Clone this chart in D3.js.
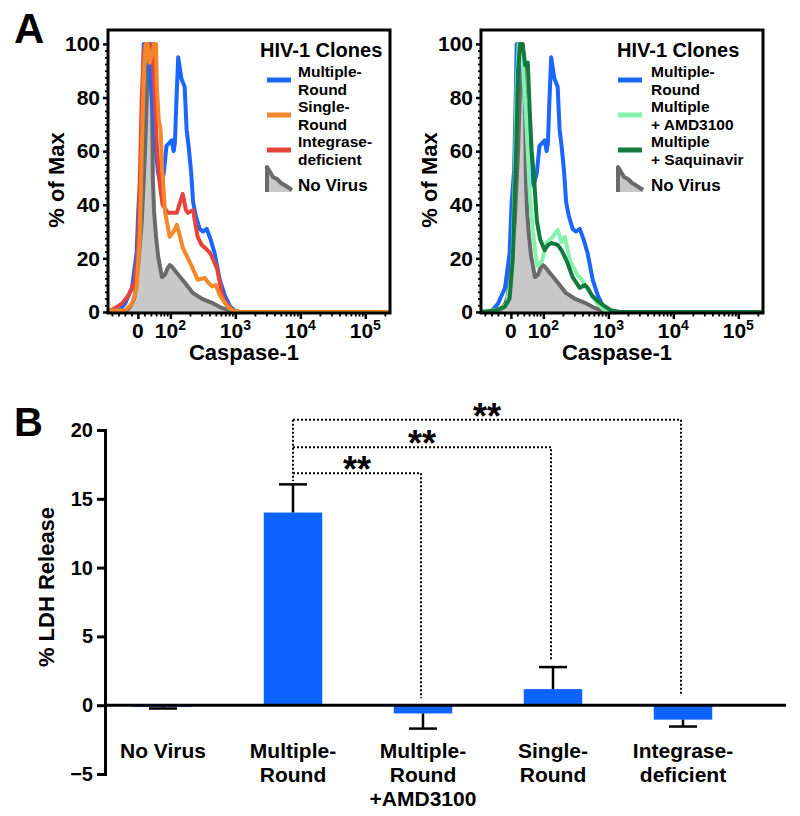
<!DOCTYPE html>
<html><head><meta charset="utf-8">
<script src="https://cdn.jsdelivr.net/npm/d3@7/dist/d3.min.js"></script>
<style>
body{margin:0;background:#fff}
text{font-family:"Liberation Sans",Arial,Helvetica,sans-serif;font-weight:bold;fill:#000}
</style></head>
<body><svg id="chart" width="800" height="816"></svg>
<script>
// ---------- DATA (panel A: x in logicle display units, 0 -> 1.5, 10^k -> k; y in % of Max) ----------
const xTickValues = [1.5, 2, 3, 4, 5];
const xTickLabels = [["0",""],["10","2"],["10","3"],["10","4"],["10","5"]];
const xMinorLinear = [1.1, 1.2, 1.3, 1.4, 1.6, 1.7, 1.78, 1.85, 1.9, 1.95];
const xMinorRaw = [200,300,400,500,600,700,800,900,2000,3000,4000,5000,6000,7000,8000,9000,
                   20000,30000,40000,50000,60000,70000,80000,90000,200000];
const yTickValuesA = [0, 20, 40, 60, 80, 100];

const noVirus = [[1.04,0],[1.30,0],[1.35,1],[1.41,3],[1.45,5.6],[1.50,16],[1.56,34],[1.61,60],[1.65,90],[1.68,100],[1.70,95],[1.72,75],[1.73,50],[1.75,37],[1.78,28],[1.81,21],[1.87,13],[1.92,14],[1.95,16],[1.99,17.5],[2.02,17],[2.10,14.5],[2.22,11],[2.35,7],[2.48,5],[2.64,3.4],[2.79,1.5],[2.92,0.5],[3.01,0],[5.38,0]];
const multipleRound = [[1.04,0],[1.19,0],[1.30,3],[1.41,9],[1.48,22],[1.51,40],[1.55,53],[1.57,75],[1.59,100],[1.66,100],[1.68,90],[1.72,78],[1.76,64],[1.81,52],[1.85,47],[1.90,52],[1.94,62],[2.02,64],[2.05,60],[2.07,63],[2.09,77],[2.12,95],[2.17,87],[2.22,84],[2.25,68],[2.28,62],[2.32,52],[2.35,41],[2.39,36],[2.45,31],[2.50,30],[2.56,31],[2.62,27],[2.68,22],[2.76,12],[2.84,6],[2.92,2],[2.99,0.5],[3.07,0],[5.38,0]];
const integraseDeficient = [[1.04,0],[1.15,1.5],[1.25,3],[1.35,6],[1.45,11],[1.50,22],[1.53,50],[1.56,80],[1.59,97],[1.62,100],[1.65,96],[1.68,94],[1.72,100],[1.75,85],[1.79,62],[1.84,47],[1.88,40],[1.96,37],[2.02,37],[2.10,37],[2.15,41],[2.19,44],[2.24,38],[2.27,37],[2.35,38],[2.39,32],[2.42,28],[2.48,25],[2.53,24],[2.61,22],[2.65,20],[2.72,16],[2.76,11],[2.79,7],[2.84,4],[2.88,2.6],[2.96,0.5],[3.07,0],[5.38,0]];
const singleRound = [[1.04,0],[1.10,0.5],[1.30,0.5],[1.41,3],[1.48,9],[1.53,28],[1.56,60],[1.59,88],[1.62,100],[1.65,100],[1.68,93],[1.72,96],[1.75,100],[1.78,100],[1.79,85],[1.82,72],[1.85,68],[1.87,55],[1.92,37],[1.99,28],[2.05,30],[2.10,32.5],[2.15,28],[2.19,24],[2.25,21],[2.33,17],[2.42,12],[2.53,12.7],[2.58,11],[2.64,9.5],[2.70,10],[2.76,6.3],[2.82,4],[2.88,2],[2.96,0.5],[3.07,0],[5.38,0]];
const multipleAMD3100 = [[1.04,0],[1.33,1],[1.44,3],[1.52,15],[1.56,50],[1.59,85],[1.62,100],[1.67,100],[1.70,85],[1.73,75],[1.79,45],[1.84,30],[1.90,17],[1.98,19],[2.05,26],[2.13,27.6],[2.22,30.6],[2.28,26],[2.33,28],[2.41,19],[2.52,14],[2.59,12],[2.72,7],[2.82,3.4],[2.95,0.5],[3.05,0],[5.38,0]];
const multipleSaquinavir = [[1.04,0],[1.25,0.5],[1.41,2],[1.48,5],[1.53,20],[1.58,60],[1.61,90],[1.64,100],[1.68,100],[1.72,92],[1.76,93],[1.79,75],[1.82,60],[1.85,52],[1.90,34],[1.95,27],[2.02,23],[2.07,25],[2.13,25.7],[2.22,25],[2.28,23],[2.36,19],[2.45,13],[2.56,9],[2.64,10],[2.68,9],[2.75,6],[2.84,4],[2.95,2],[3.05,0.5],[3.18,0],[5.38,0]];

const legendTitle = "HIV-1 Clones";
const legendLeftLabels = [["Multiple-","Round"],["Single-","Round"],["Integrase-","deficient"]];
const legendRightLabels = [["Multiple-","Round"],["Multiple","+ AMD3100"],["Multiple","+ Saquinavir"]];
const noVirusLabel = "No Virus";

// ---------- DATA (panel B) ----------
const barCategories = [["No Virus"],["Multiple-","Round"],["Multiple-","Round","+AMD3100"],["Single-","Round"],["Integrase-","deficient"]];
const barValues = [-0.12, 14.0, -0.6, 1.17, -1.05];
const barErrors = [0.12, 2.05, 1.1, 1.6, 0.5];
const yTicksB = [-5, 0, 5, 10, 15, 20];
const sigFrom = 1;
const sigTo = [2, 3, 4];
const sigLevel = [16.85, 18.75, 20.75];
const sigEnd = [0.5, 3.3, 0.7];
const sigStartTop = 16.3;
const sigLabel = ["**", "**", "**"];

// ---------- STYLES ----------
const C = {blue:"#1a66ff", orange:"#f5872a", red:"#e8433a", gray:"#6a6a6a", grayFill:"#c8c8c8",
           light:"#84f2ab", dark:"#15793d", bar:"#0d63ff"};

const svg = d3.select("#chart");

// Panel labels
svg.append("text").attr("x",14).attr("y",43).attr("font-size",42).text("A");
svg.append("text").attr("x",14).attr("y",436).attr("font-size",40).text("B");

function histPanel(left, series, legend) {
  const W = 282, top = 30, bottom = 313;
  const x = d3.scaleLinear().domain([1.04, 5.38]).range([left, left + W]);
  const y = d3.scaleLinear().domain([-0.4, 105.2]).range([bottom, top]);
  const g = svg.append("g");
  const clipId = "clip" + left;
  svg.append("clipPath").attr("id", clipId).append("rect")
    .attr("x", left).attr("y", top).attr("width", W).attr("height", bottom - top);

  const plot = g.append("g").attr("clip-path", `url(#${clipId})`);
  const line = d3.line().x(d => x(d[0])).y(d => y(d[1]));
  const area = d3.area().x(d => x(d[0])).y0(y(0)).y1(d => y(d[1]));
  plot.append("path").datum(noVirus).attr("d", area).attr("fill", C.grayFill);
  plot.append("path").datum(noVirus).attr("d", line).attr("fill","none")
    .attr("stroke", C.gray).attr("stroke-width", 4).attr("stroke-linejoin","round");
  series.forEach(s => {
    plot.append("path").datum(s.data).attr("d", line).attr("fill","none")
      .attr("stroke", s.color).attr("stroke-width", 4).attr("stroke-linejoin","round").attr("stroke-linecap","round");
  });

  // y axis ticks
  const yAxis = d3.axisLeft(y).tickValues(yTickValuesA).tickSize(5).tickPadding(3);
  const ya = g.append("g").attr("transform", `translate(${left},0)`).call(yAxis);
  ya.select(".domain").remove();
  ya.selectAll("line").attr("stroke-width", 2.5);
  ya.selectAll("text").attr("font-size", 21).attr("font-family", null).attr("fill","#000");
  const yMinor = d3.range(0, 101, 2.5).filter(v => v % 20 !== 0);
  const ym = g.append("g").attr("transform", `translate(${left},0)`)
    .call(d3.axisLeft(y).tickValues(yMinor).tickSize(3).tickFormat(""));
  ym.select(".domain").remove();
  ym.selectAll("line").attr("stroke-width", 1.8);

  // x axis ticks
  const xa = g.append("g").attr("transform", `translate(0,${bottom})`)
    .call(d3.axisBottom(x).tickValues(xTickValues).tickSize(6).tickFormat(""));
  xa.select(".domain").remove();
  xa.selectAll("line").attr("stroke-width", 2.5);
  const minorPos = xMinorLinear.concat(xMinorRaw.map(v => Math.log10(v))).filter(v => v < 5.38);
  const xm = g.append("g").attr("transform", `translate(0,${bottom})`)
    .call(d3.axisBottom(x).tickValues(minorPos).tickSize(3.5).tickFormat(""));
  xm.select(".domain").remove();
  xm.selectAll("line").attr("stroke-width", 1.8);

  xTickValues.forEach((v, i) => {
    const t = g.append("text").attr("x", x(v)).attr("y", 338).attr("text-anchor","middle").attr("font-size", 21);
    t.append("tspan").text(xTickLabels[i][0]);
    if (xTickLabels[i][1]) t.append("tspan").attr("dy", -8).attr("font-size", 14).text(xTickLabels[i][1]);
  });

  // frame
  g.append("rect").attr("x", left).attr("y", top).attr("width", W).attr("height", bottom - top)
    .attr("fill","none").attr("stroke","#000").attr("stroke-width", 3);

  // axis titles
  g.append("text").attr("x", left + 136).attr("y", 360).attr("text-anchor","middle").attr("font-size", 22).text("Caspase-1");
  g.append("text").attr("transform", `translate(${left - 44},180) rotate(-90)`).attr("text-anchor","middle")
    .attr("font-size", 22).text("% of Max");

  // legend
  const L = legend;
  g.append("text").attr("x", L.titleX).attr("y", 57).attr("font-size", 20).text(legendTitle);
  const firstBaselines = [77, 112, 147];
  const lineYs = [80, 115, 150];
  L.colors.forEach((col, i) => {
    g.append("line").attr("x1", L.lineX).attr("x2", L.lineX + 24).attr("y1", lineYs[i]).attr("y2", lineYs[i])
      .attr("stroke", col).attr("stroke-width", 5);
    L.labels[i].forEach((txt, j) => {
      g.append("text").attr("x", L.textX).attr("y", firstBaselines[i] + j * 17.5).attr("font-size", 15.5).text(txt);
    });
  });
  const ix = L.lineX, iy = 167;
  g.append("path").attr("d", `M${ix},${iy+25} L${ix},${iy} L${ix+6},${iy+10} L${ix+10},${iy+12} L${ix+14},${iy+16} L${ix+19},${iy+19} L${ix+25},${iy+23} L${ix+25},${iy+25} Z`)
    .attr("fill", C.grayFill).attr("stroke","none");
  g.append("path").attr("d", `M${ix},${iy+25} L${ix},${iy} L${ix+6},${iy+10} L${ix+10},${iy+12} L${ix+14},${iy+16} L${ix+19},${iy+19} L${ix+25},${iy+23}`)
    .attr("fill","none").attr("stroke", C.gray).attr("stroke-width", 4).attr("stroke-linejoin","round");
  g.append("text").attr("x", L.textX).attr("y", 191).attr("font-size", 17).text(noVirusLabel);
}

// draw order (bottom to top) differs from legend order
histPanel(108,
  [{data: multipleRound, color: C.blue}, {data: integraseDeficient, color: C.red}, {data: singleRound, color: C.orange}],
  {titleX: 260, lineX: 267, textX: 298, labels: legendLeftLabels, colors: [C.blue, C.orange, C.red]});

histPanel(481,
  [{data: multipleRound, color: C.blue}, {data: multipleAMD3100, color: C.light}, {data: multipleSaquinavir, color: C.dark}],
  {titleX: 617, lineX: 618, textX: 651, labels: legendRightLabels, colors: [C.blue, C.light, C.dark]});

// ---------- PANEL B ----------
const yB = d3.scaleLinear().domain([-5, 20]).range([774, 430]);
const xB = d3.scalePoint().domain(d3.range(barCategories.length)).range([163, 683]);
const bw = xB.step() * 0.45;
const gB = svg.append("g");

gB.selectAll("rect.bar").data(barValues).join("rect").attr("class","bar")
  .attr("x", (d, i) => xB(i) - bw / 2).attr("width", bw)
  .attr("y", d => yB(Math.max(0, d))).attr("height", d => Math.abs(yB(d) - yB(0)))
  .attr("fill", C.bar);

barValues.forEach((v, i) => {
  const e = v >= 0 ? v + barErrors[i] : v - barErrors[i];
  const cx = xB(i);
  gB.append("line").attr("x1", cx).attr("x2", cx).attr("y1", yB(v)).attr("y2", yB(e)).attr("stroke","#000").attr("stroke-width", 2.5);
  gB.append("line").attr("x1", cx - 14).attr("x2", cx + 14).attr("y1", yB(e)).attr("y2", yB(e)).attr("stroke","#000").attr("stroke-width", 2.5);
});

// zero line
gB.append("line").attr("x1", 105).attr("x2", 786).attr("y1", yB(0)).attr("y2", yB(0)).attr("stroke","#000").attr("stroke-width", 3);

// y axis
const yaB = gB.append("g").attr("transform","translate(105,0)")
  .call(d3.axisLeft(yB).tickValues(yTicksB).tickSize(8).tickPadding(4).tickFormat(d => d < 0 ? "\u2212" + Math.abs(d) : d));
yaB.select(".domain").attr("stroke-width", 3);
yaB.selectAll("line").attr("stroke-width", 3);
yaB.selectAll("text").attr("font-size", 20).attr("font-family", null).attr("fill","#000");
gB.append("text").attr("transform","translate(54,587) rotate(-90)").attr("text-anchor","middle").attr("font-size", 22).text("% LDH Release");

// category labels
barCategories.forEach((lines, i) => {
  lines.forEach((s, j) => {
    gB.append("text").attr("x", xB(i)).attr("y", 758 + j * 24).attr("text-anchor","middle").attr("font-size", 21).text(s);
  });
});

// significance brackets
const dotted = s => s.attr("stroke","#000").attr("stroke-width", 2).attr("stroke-dasharray","2,2").attr("fill","none");
gB.append("line").attr("x1", xB(sigFrom)).attr("x2", xB(sigFrom)).attr("y1", yB(d3.max(sigLevel))).attr("y2", yB(sigStartTop)).call(dotted);
sigTo.forEach((t, i) => {
  const xs = xB(sigFrom), xe = xB(t) - 2;
  gB.append("path").attr("d", `M${xs},${yB(sigLevel[i])} H${xe} V${yB(sigEnd[i])}`).call(dotted);
  gB.append("text").attr("x", (xs + xe) / 2).attr("y", yB(sigLevel[i]) + 9).attr("text-anchor","middle").attr("font-size", 36).text(sigLabel[i]);
});
</script></body></html>
